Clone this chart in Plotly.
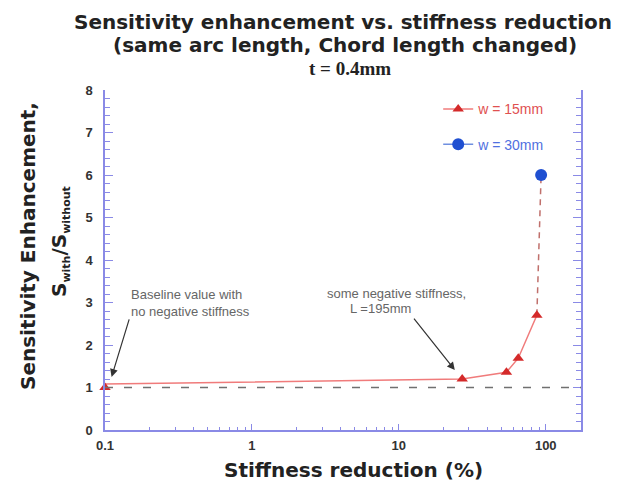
import plotly.graph_objects as go

# ---- data ----
w15_x = [0.1, 27, 54, 65, 87]
w15_y = [1.0, 1.2, 1.36, 1.69, 2.7]
w15_line_y = [1.08, 1.2, 1.36, 1.69, 2.7]
w30_x = [93]
w30_y = [6.0]
baseline = 1.0
x_ticks = [0.1, 1, 10, 100]
x_tick_labels = ["0.1", "1", "10", "100"]
y_ticks = [0, 1, 2, 3, 4, 5, 6, 7, 8]

RED_LINE = "#f07b7b"
RED_MARK = "#d42a2a"
BLUE = "#1f4fd1"
AXIS = "#8a8ae6"
FONT = "Liberation Sans, Arial, sans-serif"
BIG = "DejaVu Sans, sans-serif"

fig = go.Figure()

# red connecting line (w = 15mm)
fig.add_trace(go.Scatter(
    x=w15_x, y=w15_line_y, mode="lines",
    line=dict(color=RED_LINE, width=1.5),
    showlegend=False, hoverinfo="skip"))
# dashed connector up to w = 30mm point
fig.add_trace(go.Scatter(
    x=[w15_x[-1], w30_x[0]], y=[w15_y[-1], w30_y[0]], mode="lines",
    line=dict(color="#c0706c", width=1.5, dash="6px,5px"),
    showlegend=False, hoverinfo="skip"))
# w = 15mm markers
fig.add_trace(go.Scatter(
    x=w15_x, y=w15_y, mode="markers", cliponaxis=False,
    marker=dict(symbol="triangle-up", size=10, color=RED_MARK),
    showlegend=False))
fig.add_trace(go.Scatter(
    x=[None], y=[None], mode="lines+markers",
    line=dict(color=RED_LINE, width=1.5),
    marker=dict(symbol="triangle-up", size=10, color=RED_MARK),
    name="<span style='color:#e05050'>w = 15mm</span>",
    legendgroup="a"))
# w = 30mm
fig.add_trace(go.Scatter(
    x=w30_x, y=w30_y, mode="markers", cliponaxis=False,
    marker=dict(symbol="circle", size=12, color=BLUE),
    showlegend=False))
fig.add_trace(go.Scatter(
    x=[None], y=[None], mode="lines+markers",
    line=dict(color="#6f8fe0", width=1.5),
    marker=dict(symbol="circle", size=12, color=BLUE),
    name="<span style='color:#5070e0'>w = 30mm</span>",
    legendgroup="b"))

# baseline dashed line
fig.add_shape(type="line", xref="paper", x0=0, x1=1, yref="y",
              y0=baseline, y1=baseline,
              line=dict(color="#707070", width=1.5, dash="8px,11px"))

# title lines
fig.add_annotation(text="<b>Sensitivity enhancement vs. stiffness reduction</b>",
                   xref="paper", yref="paper", x=0.5, y=1.0, xanchor="center",
                   yanchor="middle", yshift=68, showarrow=False,
                   font=dict(family=BIG, size=20, color="#222"))
fig.add_annotation(text="<b>(same arc length, Chord length changed)</b>",
                   xref="paper", yref="paper", x=0.5, y=1.0, xanchor="center",
                   yanchor="middle", yshift=45, xshift=2, showarrow=False,
                   font=dict(family=BIG, size=20, color="#222"))
fig.add_annotation(text="<b>t = 0.4mm</b>",
                   xref="paper", yref="paper", x=0.5, y=1.0, xanchor="center",
                   yanchor="middle", yshift=22, xshift=7, showarrow=False,
                   font=dict(family="Liberation Serif, Times New Roman, serif", size=19, color="#222"))

# y-axis title
fig.add_annotation(text="<b>Sensitivity Enhancement,</b>",
                   xref="paper", yref="paper", x=0, y=0.5, xanchor="center",
                   yanchor="middle", xshift=-77, yshift=14, textangle=-90, showarrow=False,
                   font=dict(family=BIG, size=20, color="#222"))
fig.add_annotation(text="<b>S<sub><span style='font-size:11px'>with</span></sub>/S<sub><span style='font-size:11px'>without</span></sub></b>",
                   xref="paper", yref="paper", x=0, y=0.5, xanchor="center",
                   yanchor="middle", xshift=-45, yshift=18, textangle=-90, showarrow=False,
                   font=dict(family=BIG, size=20, color="#222"))
# x-axis title
fig.add_annotation(text="<b>Stiffness reduction (%)</b>",
                   xref="paper", yref="paper", x=0.5, y=0, xanchor="center",
                   yanchor="middle", xshift=10, yshift=-40, showarrow=False,
                   font=dict(family=BIG, size=20, color="#222"))

# text notes with arrows
fig.add_annotation(text="Baseline value with<br>no negative stiffness",
                   xref="x", yref="y", x=-1, y=3.0, xanchor="left",
                   xshift=24, showarrow=False, align="left",
                   font=dict(family=FONT, size=13, color="#666"))
fig.add_annotation(x=-0.955, y=1.25, xref="x", yref="y", ax=18, ay=-59,
                   text="", showarrow=True, arrowhead=2, arrowsize=1.3,
                   arrowwidth=1.2, arrowcolor="#333")
fig.add_annotation(text="some negative stiffness,",
                   xref="x", yref="y", x=0.986, y=3.22, xanchor="center",
                   showarrow=False,
                   font=dict(family=FONT, size=13, color="#666"))
fig.add_annotation(text="L =195mm",
                   xref="x", yref="y", x=0.878, y=2.85, xanchor="center",
                   showarrow=False,
                   font=dict(family=FONT, size=13, color="#666"))
fig.add_annotation(x=1.381, y=1.41, xref="x", yref="y", ax=-42, ay=-53,
                   text="", showarrow=True, arrowhead=2, arrowsize=1.3,
                   arrowwidth=1.2, arrowcolor="#333")

fig.update_xaxes(
    type="log", range=[-1, 2.24],
    tickvals=x_ticks, ticktext=x_tick_labels,
    ticks="inside", ticklen=6, tickcolor=AXIS, tickwidth=1,
    minor=dict(ticks="inside", ticklen=3, tickcolor=AXIS, dtick="D1", showgrid=False),
    showline=True, linecolor=AXIS, linewidth=1.5, mirror=False,
    showgrid=False, zeroline=False, ticklabelstandoff=3,
    tickfont=dict(family=FONT, size=13, color="#333", weight="bold"))
fig.update_yaxes(
    range=[0, 8], tickvals=y_ticks,
    ticks="inside", ticklen=8, tickcolor=AXIS, tickwidth=1,
    minor=dict(ticks="inside", ticklen=5, tickcolor=AXIS, dtick=0.2, showgrid=False),
    showline=True, linecolor=AXIS, linewidth=1.5, mirror="allticks",
    showgrid=False, zeroline=False, ticklabelstandoff=8,
    tickfont=dict(family=FONT, size=13, color="#333", weight="bold"))

fig.update_layout(
    width=619, height=483,
    margin=dict(l=97, r=46, t=82, b=61, autoexpand=False),
    paper_bgcolor="white", plot_bgcolor="white",
    showlegend=True,
    legend=dict(x=0.70, y=0.99, xanchor="left", yanchor="top",
                bgcolor="rgba(0,0,0,0)", traceorder="grouped",
                tracegroupgap=14,
                font=dict(family=FONT, size=14)),
)

fig.write_html("out.html")
